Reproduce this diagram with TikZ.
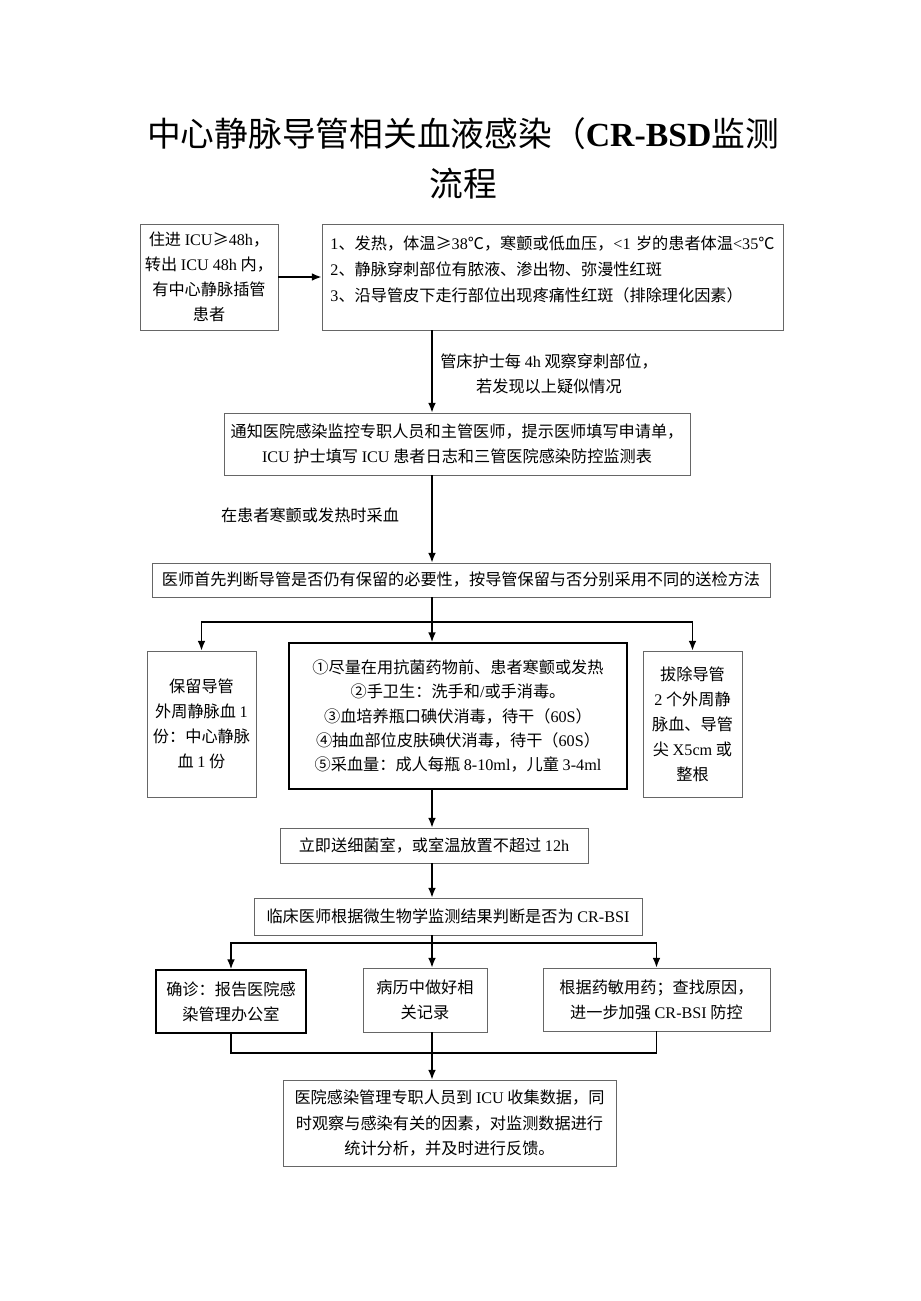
\documentclass[tikz,border=0pt]{standalone}
\usepackage{fontspec}
\setmainfont{Noto Sans CJK SC}
\newfontfamily\latfont{Liberation Serif}
\newcommand{\ltn}[1]{{\latfont #1}}
\usepackage{tikz}
\usetikzlibrary{arrows.meta}
\usetikzlibrary{positioning}
\tikzset{
    plain/.style={
      rectangle,
           draw=black!60, line width=0.6pt,
           inner sep=1pt,
           align=center,
           font=\fontsize{11.5}{17.8}\selectfont,
           },
}
\tikzset{
    heavy/.style={
      rectangle,
           draw=black, line width=1.3pt,
           inner sep=1pt,
           align=center,
           font=\fontsize{11.5}{17.8}\selectfont,
           },
}
\tikzset{
    note/.style={
      rectangle,
           inner sep=0pt,
           align=center,
           font=\fontsize{11.5}{17.8}\selectfont,
           },
}

\begin{document}
\begin{tikzpicture}[x=0.025cm,y=-0.025cm,>={Latex[length=0.24cm,width=0.19cm]}]

\useasboundingbox (0,0) rectangle (920,1301);

\node[align=center,font=\fontsize{24}{35.6}\selectfont](title) at (463,158)
  {中心静脉导管相关血液感染（\ltn{\bfseries CR-BSD}监测\\流程};

\coordinate (ax) at (432,0);

\node[plain,minimum width=3.45cm,minimum height=2.65cm](entry) at (209,277)
  {住进 \ltn{ICU}≥\ltn{48h}，\\转出 \ltn{ICU 48h} 内，\\有中心静脉插管\\患者};
\node[plain,minimum width=11.525cm,minimum height=2.65cm,text width=11.1cm,align=left,
  font=\fontsize{11.5}{18.5}\selectfont](sym) at (552.5,277)
  {\ltn{1}、发热，体温≥\ltn{38}℃，寒颤或低血压，\ltn{<1} 岁的患者体温\ltn{<35}℃\\
   \ltn{2}、静脉穿刺部位有脓液、渗出物、弥漫性红斑\\
   \ltn{3}、沿导管皮下走行部位出现疼痛性红斑（排除理化因素）\rule[-0.4cm]{0pt}{0pt}};

\path (entry) edge[->,line width=1pt](sym);

\node[plain,minimum width=11.65cm,minimum height=1.55cm](notify) at (457,444)
  {通知医院感染监控专职人员和主管医师，提示医师填写申请单，\\
   \ltn{ICU} 护士填写 \ltn{ICU} 患者日志和三管医院感染防控监测表};
\node[note](watch) at (549,374)
  {管床护士每 \ltn{4h} 观察穿刺部位，\\若发现以上疑似情况};

\draw[->,line width=1pt] (sym.south -| ax) -- (notify.north -| ax);

\node[plain,minimum width=15.45cm,minimum height=0.85cm](check) at (461,580)
  {医师首先判断导管是否仍有保留的必要性，按导管保留与否分别采用不同的送检方法};
\node[note](draw) at (310,515){在患者寒颤或发热时采血};

\draw[->,line width=1pt] (notify.south -| ax) -- (check.north -| ax);

\node[plain,minimum width=2.725cm,minimum height=3.65cm](keep) at (201.5,724)
  {保留导管\\外周静脉血 \ltn{1}\\份：中心静脉\\血 \ltn{1} 份};
\node[heavy,minimum width=8.45cm,minimum height=3.65cm,
  font=\fontsize{11.5}{17.2}\selectfont](steps) at (458,716)
  {①尽量在用抗菌药物前、患者寒颤或发热\\
   ②手卫生：洗手和\ltn{/}或手消毒。\\
   ③血培养瓶口碘伏消毒，待干（\ltn{60S}）\\
   ④抽血部位皮肤碘伏消毒，待干（\ltn{60S}）\\
   ⑤采血量：成人每瓶 \ltn{8-10ml}，儿童 \ltn{3-4ml}};
\node[plain,minimum width=2.475cm,minimum height=3.65cm](pull) at (692.5,724)
  {拔除导管\\\ltn{2} 个外周静\\脉血、导管\\尖 \ltn{X5cm} 或\\整根};

\coordinate (split1) at (432,622);
\draw[line width=1pt] (check.south -| ax) -- (split1);
\draw[->,line width=1pt] (split1) -| (keep.north);
\draw[->,line width=1pt] (split1) -- (steps.north -| ax);
\draw[->,line width=1pt] (split1) -| (pull.north);

\node[plain,minimum width=7.7cm,minimum height=0.875cm](send) at (434,845.5)
  {立即送细菌室，或室温放置不超过 \ltn{12h}};
\node[plain,minimum width=9.7cm,minimum height=0.925cm](judge) at (448,916.5)
  {临床医师根据微生物学监测结果判断是否为 \ltn{CR-BSI}};

\draw[->,line width=1pt] (steps.south -| ax) -- (send.north -| ax);
\draw[->,line width=1pt] (send.south -| ax) -- (judge.north -| ax);

\node[heavy,minimum width=3.75cm,minimum height=1.575cm](confirm) at (231,1001.5)
  {确诊：报告医院感\\染管理办公室};
\node[plain,minimum width=3.1cm,minimum height=1.6cm](record) at (425,1000)
  {病历中做好相\\关记录};
\node[plain,minimum width=5.675cm,minimum height=1.575cm](treat) at (656.5,999.5)
  {根据药敏用药；查找原因，\\进一步加强 \ltn{CR-BSI} 防控};

\coordinate (split2) at (432,943);
\draw[line width=1pt] (judge.south -| ax) -- (split2);
\draw[->,line width=1pt] (split2) -| (confirm.north);
\draw[->,line width=1pt] (split2) -- (record.north -| ax);
\draw[->,line width=1pt] (split2) -| (treat.north);

\node[plain,minimum width=8.325cm,minimum height=2.15cm](report) at (449.5,1123)
  {医院感染管理专职人员到 \ltn{ICU} 收集数据，同\\
   时观察与感染有关的因素，对监测数据进行\\
   统计分析，并及时进行反馈。};

\coordinate (merge) at (432,1053);
\draw[line width=1pt] (confirm.south) |- (merge) -| (treat.south);
\draw[line width=1pt] (record.south -| ax) -- (merge);
\draw[->,line width=1pt] (merge) -- (report.north -| ax);

\end{tikzpicture}
\end{document}
